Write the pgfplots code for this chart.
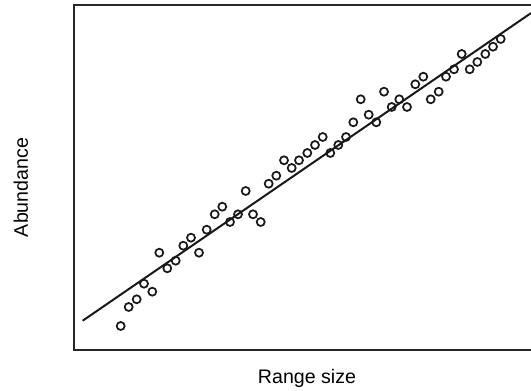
\documentclass[border=0pt]{standalone}
\usepackage{pgfplots}
\pgfplotsset{compat=1.18}
\usepackage{fontspec}
\setmainfont{Liberation Sans}
\begin{document}
\begin{tikzpicture}[x=0.75pt,y=0.75pt]
\path[use as bounding box] (-55.5pt,-30.75pt) rectangle (342.75pt,262.5pt);
\begin{axis}[
  scale only axis,
  width=342.75pt, height=258.75pt,
  xmin=0, xmax=457, ymin=0, ymax=345,
  xtick=\empty, ytick=\empty,
  axis line style={draw=none},
  clip=false,
]
\draw[line width=1.1pt, black!85] (rel axis cs:1,1) -- (rel axis cs:0,1) -- (rel axis cs:0,0) -- (rel axis cs:1,0);
\addplot[only marks, mark=o, mark size=3pt, mark options={line width=1.3pt, black!90}] coordinates {
(46.7,24) (54.7,43) (62.7,50.7) (70,66.3) (78.3,58.3) (85.3,97.3) (93.3,81.7)
(101.7,89.3) (109.3,104.3) (117,112.3) (125,97.3) (132.7,120.3) (140.7,135.7)
(148.3,143.3) (156,128) (164,135.7) (171.7,159) (179,135.7) (186.7,128)
(194.7,166.3) (202.3,174.3) (210,189.7) (217.7,182) (225,189.7) (233.3,197)
(241,205) (248.7,213) (256.3,197) (264.3,205) (272,213) (279.3,227.7)
(286.7,250.7) (294.7,235.3) (302.3,227.7) (310,258.3) (317.7,243) (325.3,250.7)
(333,243) (341.3,265.7) (349.3,273.3) (356.7,250.7) (364.7,258.3) (372,273.3)
(380,280.7) (387.7,296) (395.7,280.7) (403.3,288) (411.3,296) (419,303.3)
(426.7,311)
};
\addplot[black!90, line width=1.5pt] coordinates {(8.7,29.3) (457,336.9)};
\end{axis}
\node[font=\fontsize{14.7}{17}\selectfont, rotate=90, anchor=base] at (-34.5pt,121.9pt) {Abundance};
\node[font=\fontsize{14.7}{17}\selectfont, anchor=base] at (174.75pt,-25pt) {Range size};
\end{tikzpicture}
\end{document}
